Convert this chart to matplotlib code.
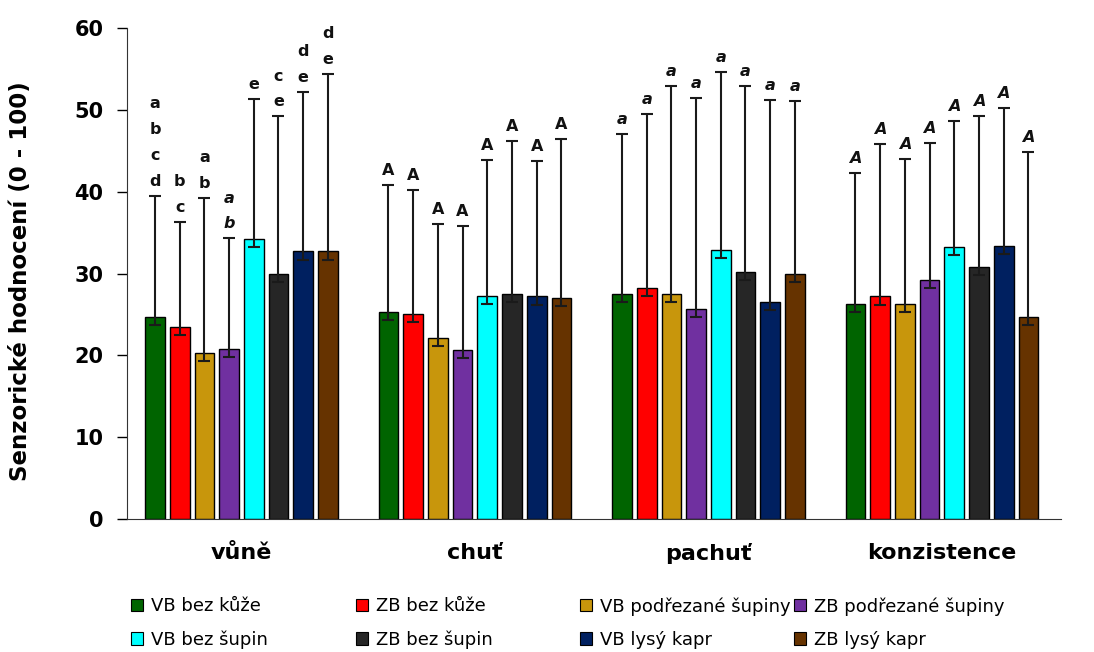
import matplotlib
matplotlib.use("Agg")
import matplotlib.pyplot as plt
import numpy as np
from matplotlib.patches import Patch

plt.rcParams['font.family'] = ['DejaVu Sans']

categories = ["vůně", "chuť", "pachuť", "konzistence"]
series = ["VB bez kůže", "ZB bez kůže", "VB podřezané šupiny", "ZB podřezané šupiny",
          "VB bez šupin", "ZB bez šupin", "VB lysý kapr", "ZB lysý kapr"]
colors = ["#006400", "#FF0000", "#C8960C", "#7030A0",
          "#00FFFF", "#262626", "#002060", "#663300"]

# means per series (rows) across categories (columns)
means = [
    [24.7, 25.3, 27.5, 26.3],
    [23.5, 25.1, 28.2, 27.2],
    [20.3, 22.1, 27.5, 26.3],
    [20.8, 20.7, 25.7, 29.2],
    [34.2, 27.3, 32.9, 33.2],
    [30.0, 27.5, 30.2, 30.8],
    [32.7, 27.2, 26.5, 33.4],
    [32.7, 27.0, 30.0, 24.7],
]
# top of error bar
err_top = [
    [39.5, 40.8, 47.0, 42.3],
    [36.3, 40.2, 49.5, 45.8],
    [39.2, 36.1, 52.9, 44.0],
    [34.3, 35.8, 51.5, 46.0],
    [51.3, 43.9, 54.6, 48.6],
    [49.2, 46.2, 52.9, 49.2],
    [52.2, 43.7, 51.2, 50.2],
    [54.4, 46.4, 51.1, 44.9],
]
err_low = 1.0

# significance letters (series x category)
letters = [
    ["a\nb\nc\nd", "A", "a", "A"],
    ["b\nc", "A", "a", "A"],
    ["a\nb", "A", "a", "A"],
    ["a\nb", "A", "a", "A"],
    ["e", "A", "a", "A"],
    ["c\ne", "A", "a", "A"],
    ["d\ne", "A", "a", "A"],
    ["d\ne", "A", "a", "A"],
]
italic = [
    [False, False, True, True],
    [False, False, True, True],
    [False, False, True, True],
    [True, False, True, True],
    [False, False, True, True],
    [False, False, True, True],
    [False, False, True, True],
    [False, False, True, True],
]

W, H = 1094, 652
fig = plt.figure(figsize=(W / 100, H / 100), dpi=100)
ax = fig.add_axes([127 / W, 1 - 519 / H, (1061 - 127) / W, (519 - 28) / H])

n = len(series)
pitch = 0.1058
width = 0.0844
centers = np.arange(len(categories)) + 0.49

for i in range(n):
    x = centers + (i - (n - 1) / 2) * pitch
    m = np.array(means[i])
    top = np.array(err_top[i])
    ax.bar(x, m, width=width, color=colors[i], edgecolor="black", linewidth=1.0, zorder=2)
    ax.errorbar(x, m, yerr=[np.full_like(m, err_low), top - m], fmt="none",
                ecolor="#1a1a1a", elinewidth=1.5, capsize=4, capthick=1.5, zorder=3)
    for j in range(len(categories)):
        ax.annotate(letters[i][j], (x[j], top[j]), xytext=(0, 5), textcoords="offset points",
                    ha="center", va="bottom", fontsize=11.5, fontweight="bold",
                    fontstyle="italic" if italic[i][j] else "normal",
                    linespacing=1.9, color="#111111")

ax.set_xlim(0, 4)
ax.set_ylim(0, 60)
ax.set_yticks(np.arange(0, 61, 10))
ax.set_xticks(centers)
ax.set_xticklabels(categories, fontsize=16, fontweight="bold")
ax.tick_params(axis="x", length=0, pad=17)
ax.tick_params(axis="y", direction="out", length=7, width=1, labelsize=15, pad=10)
for lab in ax.get_yticklabels():
    lab.set_fontweight("bold")
ax.spines["top"].set_visible(False)
ax.spines["right"].set_visible(False)
ax.spines["left"].set_color("#333333")
ax.spines["bottom"].set_color("#333333")
ax.set_ylabel("Senzorické hodnocení (0 - 100)", fontsize=16.5, fontweight="bold")
ax.yaxis.set_label_coords((32 - 127) / (1061 - 127), 0.485)

col_x = [131, 356, 580, 794]
for c in range(4):
    idx = [c, c + 4]
    handles = [Patch(facecolor=colors[k], edgecolor="black", linewidth=0.8) for k in idx]
    fig.legend(handles, [series[k] for k in idx], loc="upper left",
               bbox_to_anchor=(col_x[c] / W, 1 - 597 / H), ncol=1, frameon=False,
               fontsize=13, handlelength=0.65, handleheight=0.65, handletextpad=0.45,
               labelspacing=0.85, borderpad=0, borderaxespad=0)

fig.savefig("out.png", dpi=100)
